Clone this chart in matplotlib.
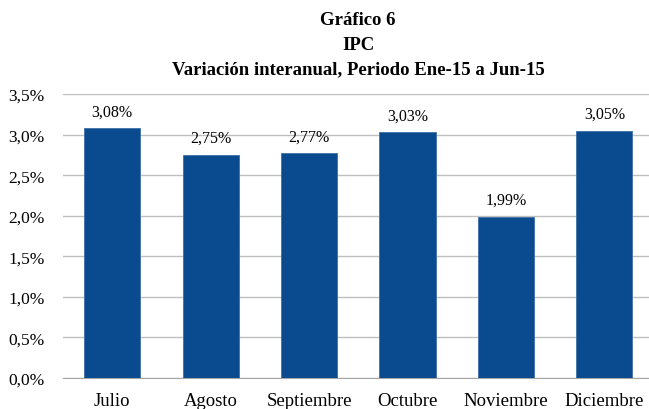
import numpy as np
import matplotlib.pyplot as plt

meses = ['Julio', 'Agosto', 'Septiembre', 'Octubre', 'Noviembre', 'Diciembre']
ipc = [3.08, 2.75, 2.77, 3.03, 1.99, 3.05]
yticks = [0.0, 0.5, 1.0, 1.5, 2.0, 2.5, 3.0, 3.5]

plt.rcParams['font.family'] = ['Liberation Serif', 'DejaVu Serif']

fig = plt.figure(figsize=(6.49, 4.10), dpi=100)
ax = fig.add_axes([0.097, 0.076, 0.91, 0.692])

x = np.arange(len(meses))
bars = ax.bar(x, ipc, width=0.57, color='#0A4A8E', edgecolor='#3F6FA8', linewidth=0.6, zorder=3)

for xi, v in zip(x, ipc):
    ax.text(xi, v + 0.11, f'{v:.2f}%'.replace('.', ','), ha='center', va='bottom', fontsize=11.5)

ax.set_xlim(-0.5, 5.5)
ax.set_ylim(0, 3.5)
ax.set_yticks(yticks)
ax.set_yticklabels([f'{t:.1f}%'.replace('.', ',') for t in yticks], fontsize=12.5)
ax.set_xticks(x)
ax.set_xticklabels(meses, fontsize=13.5)
ax.tick_params(axis='x', length=0, pad=10)
ax.tick_params(axis='y', length=0, pad=13)
ax.grid(axis='y', color='#BFBFBF', linewidth=1, zorder=0)
for s in ['top', 'right', 'left']:
    ax.spines[s].set_visible(False)
ax.spines['bottom'].set_color('#A6A6A6')

fig.text(0.552, 0.951, 'Gráfico 6', ha='center', va='center', fontsize=13.5, fontweight='bold')
fig.text(0.552, 0.890, 'IPC', ha='center', va='center', fontsize=13.5, fontweight='bold')
fig.text(0.552, 0.830, 'Variación interanual, Periodo Ene-15 a Jun-15', ha='center', va='center',
         fontsize=13.5, fontweight='bold')

fig.savefig('out.png', dpi=100)
